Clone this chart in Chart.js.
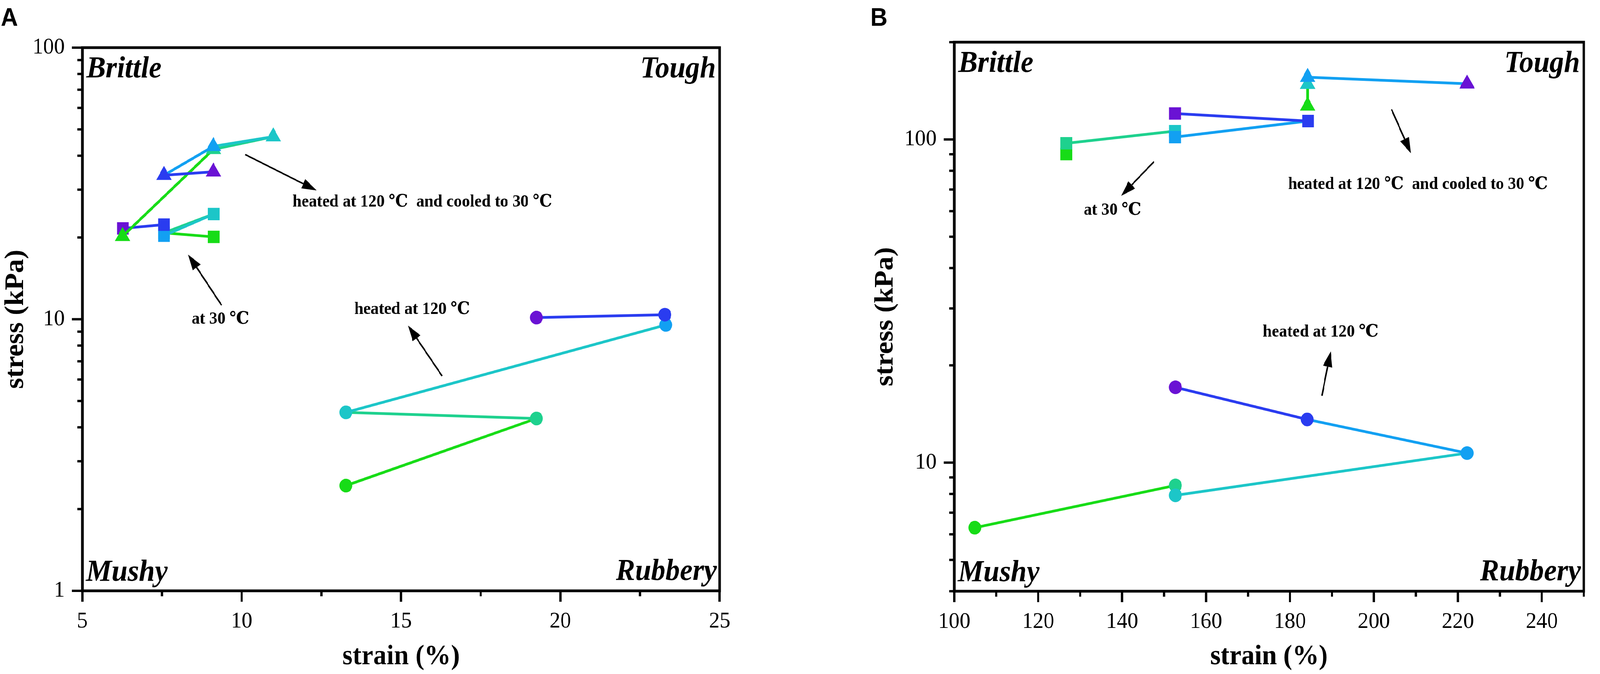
<!DOCTYPE html>
<html>
<head>
<meta charset="utf-8">
<script src="https://cdn.jsdelivr.net/npm/chart.js@4.4.0/dist/chart.umd.min.js"></script>
<style>
html, body { margin: 0; padding: 0; background: #fff; overflow: hidden; }
#wrap { position: relative; width: 4331px; height: 1726px; overflow: hidden; transform-origin: 0 0; }
canvas { position: absolute; top: 0; }
</style>
</head>
<body>
<div id="wrap">
  <canvas id="chartA" width="2160" height="1726" style="left:0px;width:2160px;height:1726px"></canvas>
  <canvas id="chartB" width="2171" height="1726" style="left:2160px;width:2171px;height:1726px"></canvas>
</div>
<script>
// one colour per point of a group, purple first, green last
const pointColors = ['#6a12d4', '#2a3cf0', '#12a0f2', '#1cc6c8', '#1ed18e', '#17dc17']

// panel A - strain (%) and stress (kPa)
const strainA_tri = [9.11, 7.56, 9.11, 10.99, 9.11, 6.26]
const stressA_tri = [34.9, 33.9, 43.3, 47.0, 42.2, 20.2]
const strainA_sq = [6.27, 7.56, 7.56, 9.12, 7.56, 9.12]
const stressA_sq = [21.6, 22.3, 20.3, 24.4, 20.8, 20.1]
const strainA_cir = [19.25, 23.28, 23.31, 13.27, 19.25, 13.27]
const stressA_cir = [10.14, 10.39, 9.53, 4.54, 4.31, 2.44]

// panel B
const strainB_tri = [222.2, 222.2, 184.2, 184.2, 184.2, 184.2]
const stressB_tri = [148.7, 148.7, 155.8, 148.3, 148.3, 127.0]
const strainB_sq = [152.6, 184.3, 152.6, 152.6, 126.7, 126.7]
const stressB_sq = [120.3, 114.0, 101.7, 106.1, 97.3, 90.1]
const strainB_cir = [152.7, 184.1, 222.2, 152.7, 152.7, 104.9]
const stressB_cir = [17.1, 13.6, 10.7, 7.92, 8.5, 6.29]

// axis ticks
const xTicksA = [5, 7.5, 10, 12.5, 15, 17.5, 20, 22.5, 25]
const xLabelsA = [5, 10, 15, 20, 25]
const yTicksA = [1, 2, 3, 4, 5, 6, 7, 8, 9, 10, 20, 30, 40, 50, 60, 70, 80, 90, 100]
const yLabelsA = [1, 10, 100]
const xTicksB = [100, 110, 120, 130, 140, 150, 160, 170, 180, 190, 200, 210, 220, 230, 240, 250]
const xLabelsB = [100, 120, 140, 160, 180, 200, 220, 240]
const yTicksB = [4, 5, 6, 7, 8, 9, 10, 20, 30, 40, 50, 60, 70, 80, 90, 100, 200]
const yLabelsB = [10, 100]

// notes: [text, strain, stress]; arrows: [fromStrain, fromStress, toStrain, toStress]
const notesA = [['heated at 120 \u2103  and cooled to 30 \u2103', 15.67, 27.0], ['at 30 \u2103', 9.33, 9.98], ['heated at 120 \u2103', 15.35, 10.84]]
const arrowsA = [[10.11, 40.4, 12.35, 29.8], [9.37, 11.25, 8.32, 17.3], [16.29, 6.18, 15.22, 9.48]]
const notesB = [['heated at 120 \u2103  and cooled to 30 \u2103', 210.5, 72.5], ['at 30 \u2103', 137.7, 60.4], ['heated at 120 \u2103', 187.3, 25.3]]
const arrowsB = [[204.2, 124, 208.8, 90.6], [147.6, 85.4, 139.8, 66.9], [187.6, 16.1, 189.7, 22.1]]

const SERIF = "'Liberation Serif', 'Times New Roman', 'DejaVu Serif', serif"

// the window can come out smaller than the page, so stretch the page onto it
let fitX = Math.min(1, window.innerWidth / 4331)
let fitY = Math.min(1, window.innerHeight / 1726)
if (fitX < 1 || fitY < 1) {
  document.getElementById('wrap').style.transform = 'scale(' + fitX + ',' + fitY + ')'
}

function makeSet(xs, ys, style, radius) {
  // the first point sits on top in the original, so feed them backwards
  let pts = xs.map((x, i) => ({x: x, y: ys[i]})).reverse()
  let cols = pointColors.slice().reverse()
  return {
    data: pts,
    showLine: true,
    pointStyle: style,
    pointRadius: radius,
    pointHoverRadius: radius,
    pointBackgroundColor: cols,
    pointBorderColor: cols,
    pointBorderWidth: 0,
    borderWidth: 7,
    borderColor: cols[0],
    segment: { borderColor: ctx => cols[ctx.p0DataIndex] }
  }
}

function drawArrow(ctx, x1, y1, x2, y2) {
  let ang = Math.atan2(y2 - y1, x2 - x1)
  let headLen = 40, headW = 13
  let bx = x2 - Math.cos(ang) * headLen, by = y2 - Math.sin(ang) * headLen
  ctx.strokeStyle = '#000'
  ctx.lineWidth = 4
  ctx.beginPath()
  ctx.moveTo(x1, y1)
  ctx.lineTo(bx, by)
  ctx.stroke()
  ctx.fillStyle = '#000'
  ctx.beginPath()
  ctx.moveTo(x2, y2)
  ctx.lineTo(bx + Math.sin(ang) * headW, by - Math.cos(ang) * headW)
  ctx.lineTo(bx - Math.sin(ang) * headW, by + Math.cos(ang) * headW)
  ctx.closePath()
  ctx.fill()
}

const decorations = {
  id: 'decorations',
  afterDraw(chart, args, opts) {
    const ctx = chart.ctx
    const a = chart.chartArea
    const xs = chart.scales.x, ys = chart.scales.y
    ctx.save()

    // frame
    ctx.strokeStyle = '#000'
    ctx.lineWidth = 7
    ctx.strokeRect(a.left, a.top, a.right - a.left, a.bottom - a.top)

    // tick marks, long for labelled ticks
    ctx.lineWidth = 6
    ctx.lineCap = 'butt'
    xs.ticks.forEach(t => {
      let p = xs.getPixelForValue(t.value)
      let len = t.label !== '' ? 28 : 14
      ctx.beginPath()
      ctx.moveTo(p, a.bottom)
      ctx.lineTo(p, a.bottom + len)
      ctx.stroke()
    })
    ys.ticks.forEach(t => {
      let p = ys.getPixelForValue(t.value)
      let len = t.label !== '' ? 28 : 14
      ctx.beginPath()
      ctx.moveTo(a.left, p)
      ctx.lineTo(a.left - len, p)
      ctx.stroke()
    })

    // corner words
    ctx.fillStyle = '#000'
    ctx.font = 'italic bold 78px ' + SERIF
    ctx.textBaseline = 'alphabetic'
    ctx.textAlign = 'left'
    ctx.fillText('Brittle', a.left + 11, a.top + 76)
    ctx.fillText('Mushy', a.left + 10, a.bottom - 26)
    ctx.textAlign = 'right'
    ctx.fillText('Tough', a.right - 10, a.top + 76)
    ctx.fillText('Rubbery', a.right - 8, a.bottom - 28)

    // notes and arrows
    ctx.font = 'bold 44px ' + SERIF
    ctx.textAlign = 'center'
    ctx.textBaseline = 'middle'
    opts.notes.forEach(n => {
      ctx.fillText(n[0], xs.getPixelForValue(n[1]), ys.getPixelForValue(n[2]))
    })
    opts.arrows.forEach(r => {
      drawArrow(ctx, xs.getPixelForValue(r[0]), ys.getPixelForValue(r[1]),
                xs.getPixelForValue(r[2]), ys.getPixelForValue(r[3]))
    })

    // panel letter
    ctx.font = "bold 64px 'Liberation Sans', Arial, sans-serif"
    ctx.textAlign = 'left'
    ctx.textBaseline = 'top'
    ctx.fillText(opts.letter, opts.letterX, 16)
    ctx.restore()
  }
}

function makeChart(id, sets, cfg) {
  const tickFont = { family: SERIF, size: 58 }
  const titleFont = { family: SERIF, size: 72, weight: 'bold' }
  return new Chart(document.getElementById(id), {
    type: 'scatter',
    data: { datasets: sets },
    plugins: [decorations],
    options: {
      responsive: false,
      animation: false,
      devicePixelRatio: 1,
      layout: { padding: cfg.padding },
      plugins: {
        legend: { display: false },
        tooltip: { enabled: false },
        decorations: { notes: cfg.notes, arrows: cfg.arrows, letter: cfg.letter, letterX: cfg.letterX }
      },
      scales: {
        x: {
          type: 'linear',
          min: cfg.xMin,
          max: cfg.xMax,
          afterBuildTicks: s => { s.ticks = cfg.xTicks.map(v => ({value: v})) },
          afterFit: s => { s.height = cfg.xHeight },
          ticks: {
            autoSkip: false,
            maxRotation: 0,
            padding: 44,
            color: '#000',
            font: tickFont,
            callback: v => cfg.xLabels.includes(v) ? String(v) : ''
          },
          grid: { display: false, drawTicks: false },
          border: { display: false },
          title: { display: true, text: 'strain (%)', color: '#000', font: titleFont, padding: 0 }
        },
        y: {
          type: 'logarithmic',
          min: cfg.yMin,
          max: cfg.yMax,
          afterBuildTicks: s => { s.ticks = cfg.yTicks.map(v => ({value: v})) },
          afterFit: s => { s.width = cfg.yWidth },
          ticks: {
            autoSkip: false,
            padding: 48,
            color: '#000',
            font: tickFont,
            callback: v => cfg.yLabels.includes(v) ? String(v) : ''
          },
          grid: { display: false, drawTicks: false },
          border: { display: false },
          title: { display: true, text: 'stress (kPa)', color: '#000', font: titleFont, padding: 0 }
        }
      }
    }
  })
}

makeChart('chartA', [
  makeSet(strainA_tri, stressA_tri, 'triangle', 24),
  makeSet(strainA_sq, stressA_sq, 'rect', 22.5),
  makeSet(strainA_cir, stressA_cir, 'circle', 17.5)
], {
  padding: { left: 0, right: 212, top: 122, bottom: 0 },
  xMin: 5, xMax: 25, xTicks: xTicksA, xLabels: xLabelsA, xHeight: 213,
  yMin: 1, yMax: 100, yTicks: yTicksA, yLabels: yLabelsA, yWidth: 223,
  notes: notesA, arrows: arrowsA, letter: 'A', letterX: 2
})

makeChart('chartB', [
  makeSet(strainB_tri, stressB_tri, 'triangle', 24),
  makeSet(strainB_sq, stressB_sq, 'rect', 22.5),
  makeSet(strainB_cir, stressB_cir, 'circle', 17.5)
], {
  padding: { left: 194, right: 11, top: 108, bottom: 0 },
  xMin: 100, xMax: 250, xTicks: xTicksB, xLabels: xLabelsB, xHeight: 212,
  yMin: 4, yMax: 200, yTicks: yTicksB, yLabels: yLabelsB, yWidth: 229,
  notes: notesB, arrows: arrowsB, letter: 'B', letterX: 196
})
</script>
</body>
</html>
